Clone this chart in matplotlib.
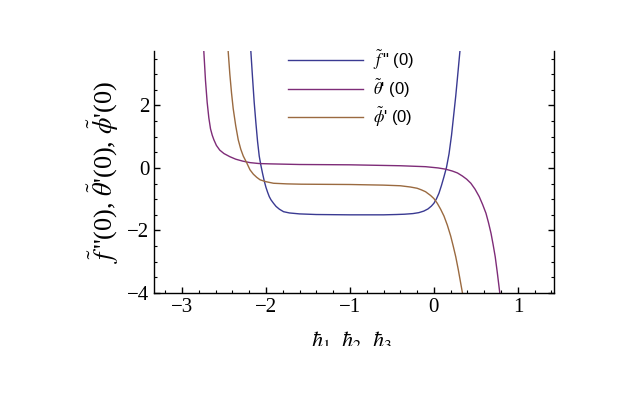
import matplotlib
matplotlib.use("Agg")
import matplotlib.pyplot as plt
from matplotlib.ticker import MultipleLocator
from matplotlib.transforms import Bbox

plt.rcParams['font.family'] = ['Liberation Serif', 'DejaVu Serif']
plt.rcParams['mathtext.fontset'] = 'stix'

# f''(0)
f_x = [-2.18, -2.16, -2.14, -2.12, -2.10, -2.08, -2.06, -2.04, -2.02, -2.00, -1.98, -1.96, -1.94,
       -1.91, -1.88, -1.84, -1.79, -1.72, -1.60, -1.4, -1.0, -0.6, -0.45, -0.35, -0.25, -0.18,
       -0.12, -0.07, -0.03, 0.0, 0.03, 0.06, 0.09, 0.12, 0.15, 0.18, 0.21, 0.24, 0.26, 0.28, 0.31]
f_y = [3.74, 2.9, 2.1, 1.45, 0.85, 0.38, 0.08, -0.18, -0.42, -0.62, -0.78, -0.92, -1.02,
       -1.13, -1.23, -1.32, -1.40, -1.44, -1.47, -1.49, -1.50, -1.50, -1.49, -1.48, -1.46, -1.43,
       -1.38, -1.31, -1.22, -1.13, -0.99, -0.81, -0.56, -0.28, 0.02, 0.45, 1.05, 1.8, 2.3, 2.87, 3.74]
# theta'(0)
t_x = [-2.74, -2.72, -2.70, -2.68, -2.66, -2.64, -2.62, -2.59, -2.55, -2.50, -2.43, -2.36, -2.28,
       -2.19, -2.08, -1.95, -1.6, -1.0, -0.4, -0.1, 0.05, 0.14, 0.22, 0.28, 0.34, 0.39, 0.44, 0.49,
       0.54, 0.58, 0.62, 0.65, 0.68, 0.705, 0.73, 0.755, 0.78, 0.785]
t_y = [3.74, 2.8, 2.1, 1.6, 1.25, 1.05, 0.9, 0.72, 0.57, 0.46, 0.36, 0.28, 0.22,
       0.17, 0.14, 0.13, 0.11, 0.1, 0.07, 0.04, 0.0, -0.04, -0.1, -0.16, -0.26, -0.36, -0.49, -0.68,
       -0.92, -1.17, -1.45, -1.75, -2.09, -2.45, -2.84, -3.35, -3.9, -4.0]
# phi'(0)
p_x = [-2.45, -2.43, -2.41, -2.39, -2.36, -2.33, -2.30, -2.27, -2.23, -2.19, -2.15, -2.11, -2.07,
       -2.0, -1.91, -1.75, -1.58, -1.0, -0.6, -0.4, -0.28, -0.2, -0.15, -0.1, -0.04, 0.0, 0.04,
       0.08, 0.12, 0.16, 0.2, 0.23, 0.26, 0.29, 0.32, 0.34]
p_y = [3.74, 3.0, 2.4, 1.9, 1.35, 0.9, 0.6, 0.38, 0.17, -0.06, -0.2, -0.3, -0.38,
       -0.44, -0.49, -0.51, -0.52, -0.53, -0.55, -0.57, -0.61, -0.65, -0.70, -0.76, -0.88, -0.98, -1.13,
       -1.32, -1.54, -1.83, -2.18, -2.5, -2.84, -3.25, -3.7, -4.0]

labels = [r'$\tilde{f}\,$" (0)', r"$\tilde{\theta}$' (0)", r"$\tilde{\phi}$' (0)"]
colors = ['#3a3a92', '#7e2c78', '#9a6a40']

fig = plt.figure(figsize=(6.4, 4.0), dpi=100)
ax = fig.add_axes([154/640, 1-293/400, 400/640, 242/400])

ax.plot(f_x, f_y, color=colors[0], lw=1.0, label=labels[0])
ax.plot(t_x, t_y, color=colors[1], lw=1.0, label=labels[1])
ax.plot(p_x, p_y, color=colors[2], lw=1.0, label=labels[2])

ax.set_xlim(-3.333, 1.43)
ax.set_ylim(-4, 3.74)
ax.spines['top'].set_visible(False)
for s in ['left', 'bottom', 'right']:
    ax.spines[s].set_linewidth(1.0)
ax.xaxis.set_major_locator(MultipleLocator(1))
ax.xaxis.set_minor_locator(MultipleLocator(0.2))
ax.yaxis.set_major_locator(MultipleLocator(2))
ax.yaxis.set_minor_locator(MultipleLocator(0.5))
ax.tick_params(which='both', direction='in', right=True, top=False, labelsize=15)
ax.tick_params(which='major', length=4.5, width=1.0)
ax.tick_params(which='minor', length=2.3, width=0.8)

ax.set_ylabel(r"$\tilde{f}\,$''(0), $\tilde{\theta}$'(0), $\tilde{\phi}$'(0)", fontsize=19, labelpad=4)

leg = ax.legend(loc='upper left', bbox_to_anchor=(288/640, 1-48/400), bbox_transform=fig.transFigure,
                frameon=False, borderpad=0, borderaxespad=0, handlelength=4.5, handletextpad=0.6,
                labelspacing=0.3, prop={'family': 'Liberation Sans', 'size': 12})

t = fig.text(352/640, 1-340/400, r"$\hbar_1\ \ \hbar_2\ \ \hbar_3$", ha='center', va='center', fontsize=16)
t.set_clip_box(Bbox.from_extents(0, 400-346, 640, 400))
t.set_clip_on(True)

fig.savefig("out.png", dpi=100)
